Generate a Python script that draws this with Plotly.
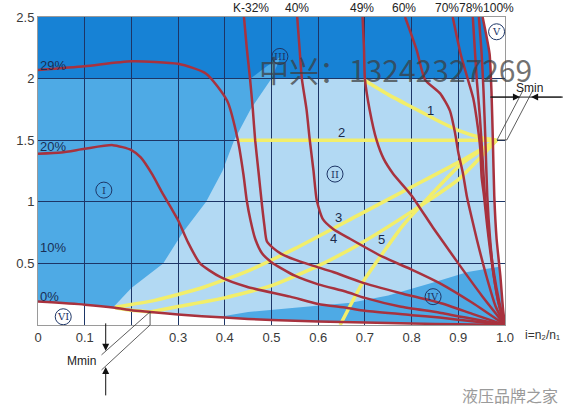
import plotly.graph_objects as go

# ---------------- ticks ----------------
x_tick_vals = [0, 0.1, 0.2, 0.3, 0.4, 0.5, 0.6, 0.7, 0.8, 0.9, 1.0]
x_tick_text = ["0", "0.1", "", "0.3", "0.4", "0.5", "0.6", "0.7", "0.8", "0.9", "1.0"]
y_tick_vals = [0, 0.5, 1, 1.5, 2, 2.5]
y_tick_text = ["", "0.5", "1", "1.5", "2", "2.5"]

# ---------------- characteristic curves ----------------
k0_x = [0, 0.1, 0.165, 0.2, 0.24, 0.3, 0.4, 0.5, 0.6, 0.7, 0.8, 0.9, 1.0]
k0_y = [0.19, 0.165, 0.14, 0.12, 0.106, 0.085, 0.06, 0.04, 0.028, 0.02, 0.012, 0.006, 0]

k20_x = [0, 0.05, 0.1, 0.16, 0.2, 0.22, 0.245, 0.265, 0.285, 0.3, 0.32, 0.347, 0.39, 0.447, 0.54, 0.6, 0.66, 0.7, 0.8, 0.86, 0.93, 1.0]
k20_y = [1.39, 1.40, 1.43, 1.46, 1.42, 1.36, 1.22, 1.08, 0.95, 0.85, 0.68, 0.50, 0.39, 0.31, 0.23, 0.17, 0.14, 0.115, 0.08, 0.06, 0.03, 0]

k29_x = [0, 0.1, 0.2, 0.3, 0.36, 0.405, 0.428, 0.44, 0.447, 0.455, 0.465, 0.48, 0.5, 0.55, 0.6, 0.66, 0.7, 0.775, 0.86, 0.93, 1.0]
k29_y = [2.07, 2.10, 2.14, 2.12, 2.04, 1.82, 1.50, 1.22, 1.01, 0.85, 0.70, 0.58, 0.51, 0.40, 0.33, 0.27, 0.22, 0.15, 0.10, 0.05, 0]

k32_x = [0.441, 0.447, 0.454, 0.46, 0.465, 0.472, 0.48, 0.485, 0.49, 0.505, 0.52, 0.55, 0.59, 0.632, 0.69, 0.775, 0.86, 0.93, 1.0]
k32_y = [2.5, 2.25, 2.0, 1.75, 1.5, 1.25, 0.96, 0.8, 0.68, 0.62, 0.58, 0.53, 0.48, 0.43, 0.35, 0.26, 0.18, 0.09, 0]

k40_x = [0.555, 0.56, 0.565, 0.575, 0.582, 0.59, 0.597, 0.61, 0.632, 0.668, 0.74, 0.80, 0.86, 0.93, 1.0]
k40_y = [2.5, 2.25, 2.0, 1.75, 1.5, 1.25, 1.01, 0.86, 0.78, 0.70, 0.55, 0.45, 0.34, 0.18, 0]

k49_x = [0.695, 0.698, 0.70, 0.71, 0.725, 0.74, 0.76, 0.80, 0.846, 0.90, 0.95, 1.0]
k49_y = [2.5, 2.25, 2.0, 1.75, 1.5, 1.35, 1.23, 1.05, 0.79, 0.50, 0.24, 0]

k60_x = [0.786, 0.811, 0.829, 0.861, 0.882, 0.893, 0.90, 0.91, 0.918, 0.93, 0.94, 0.96, 0.98, 1.0]
k60_y = [2.5, 2.23, 1.99, 1.88, 1.74, 1.56, 1.4, 1.23, 1.05, 0.85, 0.69, 0.40, 0.15, 0]

k70_x = [0.888, 0.905, 0.92, 0.932, 0.942, 0.947, 0.95, 0.955, 0.962, 0.972, 0.985, 1.0]
k70_y = [2.5, 2.2, 2.0, 1.84, 1.6, 1.43, 1.2, 1.05, 0.8, 0.5, 0.2, 0]

k78_x = [0.931, 0.936, 0.94, 0.946, 0.952, 0.957, 0.965, 0.975, 0.988, 1.0]
k78_y = [2.5, 2.2, 1.97, 1.7, 1.35, 1.05, 0.75, 0.45, 0.18, 0]

k88_x = [0.944, 0.95, 0.954, 0.958, 0.962, 0.968, 0.976, 0.99, 1.0]
k88_y = [2.5, 2.2, 1.9, 1.5, 1.05, 0.7, 0.4, 0.12, 0]

k100_x = [0.952, 0.96, 0.967, 0.971, 0.974, 0.977, 0.982, 0.99, 0.996, 1.0]
k100_y = [2.5, 2.35, 2.2, 1.9, 1.5, 1.05, 0.7, 0.4, 0.12, 0]

# ---------------- operating lines (yellow) ----------------
op1_x = [0.697, 0.75, 0.80, 0.85, 0.90, 0.95, 0.982]
op1_y = [1.99, 1.87, 1.77, 1.67, 1.58, 1.52, 1.50]
op2_x = [0.428, 0.982]
op2_y = [1.5, 1.5]
op3_x = [0.165, 0.25, 0.35, 0.45, 0.55, 0.69, 0.80, 0.90, 0.982]
op3_y = [0.145, 0.20, 0.30, 0.44, 0.62, 0.90, 1.12, 1.32, 1.5]
op4_x = [0.24, 0.30, 0.40, 0.50, 0.60, 0.69, 0.80, 0.90, 0.982]
op4_y = [0.106, 0.15, 0.22, 0.32, 0.48, 0.66, 0.92, 1.18, 1.5]
op5_x = [0.647, 0.696, 0.736, 0.782, 0.84, 0.904, 0.982]
op5_y = [0.0, 0.35, 0.57, 0.81, 1.05, 1.30, 1.5]
opb_x = [0.165, 0.2, 0.24]
opb_y = [0.14, 0.12, 0.106]

# ---------------- region boundaries ----------------
b1_x = [0.15, 0.2, 0.268, 0.31, 0.36, 0.395, 0.42, 0.455, 0.50]
b1_y = [0.10, 0.30, 0.5, 0.75, 1.0, 1.25, 1.5, 1.75, 2.0]
wedge_x = [0.455, 0.50, 0.52, 0.49]
wedge_y = [2.0, 2.0, 2.18, 2.1]
iv_x = [0.38, 0.45, 0.55, 0.67, 0.75, 0.85, 0.92, 1.0]
iv_y = [0.06, 0.105, 0.14, 0.18, 0.24, 0.35, 0.43, 0.48]

# ---------------- labels ----------------
top_labels = ["K-32%", "40%", "49%", "60%", "70%78%100%"]
top_label_x = [0.456, 0.555, 0.694, 0.784, 0.934]
left_labels = ["29%", "20%", "10%", "0%"]
left_label_y = [2.11, 1.45, 0.63, 0.23]
num_labels = ["1", "2", "3", "4", "5"]
num_x = [0.84, 0.649, 0.643, 0.632, 0.736]
num_y = [1.74, 1.56, 0.87, 0.70, 0.69]
roman_labels = ["I", "II", "III", "IV", "V", "VI"]
roman_x = [0.141, 0.636, 0.518, 0.846, 0.982, 0.054]
roman_y = [1.095, 1.225, 2.18, 0.23, 2.38, 0.067]

C_DARK = "#1782d5"
C_MED = "#4eaae5"
C_LIGHT = "#b2d9f3"
C_GRID = "#1d3566"
C_RED = "#a8323e"
C_YEL = "#f2ee6a"
FONT = "Liberation Sans, Arial, sans-serif"


def path(xs, ys):
    return "M " + " L ".join(f"{x},{y}" for x, y in zip(xs, ys)) + " Z"


fig = go.Figure()

# yellow operating lines
for xs, ys in [(op1_x, op1_y), (op2_x, op2_y), (op3_x, op3_y), (op4_x, op4_y), (op5_x, op5_y), (opb_x, opb_y)]:
    fig.add_trace(go.Scatter(x=xs, y=ys, mode="lines", line=dict(color=C_YEL, width=3.5, shape="spline", smoothing=0.5),
                             hoverinfo="skip", showlegend=False))

# red curves
for xs, ys in [(k0_x, k0_y), (k20_x, k20_y), (k29_x, k29_y), (k32_x, k32_y), (k40_x, k40_y), (k49_x, k49_y),
               (k60_x, k60_y), (k70_x, k70_y), (k78_x, k78_y), (k88_x, k88_y), (k100_x, k100_y)]:
    fig.add_trace(go.Scatter(x=xs, y=ys, mode="lines", line=dict(color=C_RED, width=2.5, shape="spline", smoothing=0.6),
                             hoverinfo="skip", showlegend=False))

shapes = []
# regions
shapes.append(dict(type="rect", xref="x", yref="y", x0=0, x1=1, y0=2, y1=2.5, fillcolor=C_DARK, line_width=0, layer="below"))
shapes.append(dict(type="path", xref="x", yref="y", path=path(wedge_x, wedge_y), fillcolor=C_MED, line_width=0, layer="below"))
shapes.append(dict(type="path", xref="x", yref="y",
                   path=path(b1_x + [1.0, 1.0, b1_x[0]], b1_y + [2.0, 0.0, 0.0]),
                   fillcolor=C_LIGHT, line_width=0, layer="below"))
shapes.append(dict(type="path", xref="x", yref="y",
                   path=path(iv_x + [1.0, iv_x[0]], iv_y + [0.0, 0.0]),
                   fillcolor=C_MED, line_width=0, layer="below"))
shapes.append(dict(type="path", xref="x", yref="y",
                   path=path(k0_x + [0.0], k0_y + [0.0]), fillcolor="white", line_width=0, layer="below"))
shapes.append(dict(type="path", xref="x", yref="y",
                   path=path(k100_x + [1.0], k100_y + [2.5]), fillcolor="white", line_width=0, layer="below"))

# roman numeral circles
for rx, ry in zip(roman_x, roman_y):
    shapes.append(dict(type="circle", xref="x", yref="y", xsizemode="pixel", ysizemode="pixel",
                       xanchor=rx, yanchor=ry, x0=-8, x1=8, y0=-8, y1=8,
                       line=dict(color=C_GRID, width=1), layer="above"))

# Smin construction (paper coords)
LK = dict(color="#222", width=1)
LT = dict(color="#333", width=0.8)
shapes += [
    dict(type="line", xref="paper", yref="paper", x0=0.968, x1=1.124, y0=0.740, y1=0.740, line=LK),
    dict(type="line", xref="paper", yref="paper", x0=0.983, x1=1.039, y0=0.601, y1=0.763, line=LT),
    dict(type="line", xref="paper", yref="paper", x0=1.004, x1=1.060, y0=0.601, y1=0.763, line=LT),
    dict(type="line", xref="paper", yref="paper", x0=0.983, x1=1.004, y0=0.601, y1=0.601, line=LT),
    # Mmin construction
    dict(type="line", xref="paper", yref="paper", x0=0.240, x1=0.136, y0=0.043, y1=-0.097, line=LT),
    dict(type="line", xref="paper", yref="paper", x0=0.240, x1=0.136, y0=0.0, y1=-0.146, line=LT),
    dict(type="line", xref="paper", yref="paper", x0=0.240, x1=0.240, y0=0.043, y1=0.0, line=LT),
]

ann = []
for t, x in zip(top_labels, top_label_x):
    ann.append(dict(text=t, x=x, y=1, xref="x", yref="paper", xanchor="center", yanchor="bottom", showarrow=False,
                    font=dict(size=12, color="#222", family=FONT)))
for t, y in zip(left_labels, left_label_y):
    ann.append(dict(text=t, x=0.0, y=y, xref="x", yref="y", xanchor="left", yanchor="middle", showarrow=False,
                    font=dict(size=13, color="#1a2f55", family=FONT)))
for t, x, y in zip(num_labels, num_x, num_y):
    ann.append(dict(text=t, x=x, y=y, xref="x", yref="y", showarrow=False,
                    font=dict(size=13, color="#1a2a4a", family=FONT)))
for t, x, y in zip(roman_labels, roman_x, roman_y):
    ann.append(dict(text=t, x=x, y=y, xref="x", yref="y", showarrow=False,
                    font=dict(size=10, color=C_GRID, family="DejaVu Serif, serif")))

ann += [
    dict(text="i=n₂/n₁", x=1.08, y=-0.033, xref="paper", yref="paper", xanchor="center", yanchor="middle",
         showarrow=False, font=dict(size=12, color="#333", family=FONT)),
    dict(text="Smin", x=1.053, y=0.768, xref="paper", yref="paper", xanchor="center", yanchor="middle",
         showarrow=False, font=dict(size=12, color="#222", family=FONT)),
    dict(text="Mmin", x=0.094, y=-0.117, xref="paper", yref="paper", xanchor="center", yanchor="middle",
         showarrow=False, font=dict(size=12, color="#222", family=FONT)),
    # arrows
    dict(text="", x=1.032, y=0.740, xref="paper", yref="paper", showarrow=True, ax=-30, ay=0,
         arrowhead=2, arrowsize=1.4, arrowwidth=1, arrowcolor="#111"),
    dict(text="", x=1.056, y=0.740, xref="paper", yref="paper", showarrow=True, ax=32, ay=0,
         arrowhead=2, arrowsize=1.4, arrowwidth=1, arrowcolor="#111"),
    dict(text="", x=0.145, y=-0.084, xref="paper", yref="paper", showarrow=True, ax=0, ay=-29,
         arrowhead=2, arrowsize=1.4, arrowwidth=1, arrowcolor="#111"),
    dict(text="", x=0.145, y=-0.136, xref="paper", yref="paper", showarrow=True, ax=0, ay=30,
         arrowhead=2, arrowsize=1.4, arrowwidth=1, arrowcolor="#111"),
    # watermarks
    dict(text="中兴：13242327269", x=0.47, y=0.83, xref="paper", yref="paper", xanchor="left", yanchor="middle",
         showarrow=False,
         font=dict(size=30, color="rgba(60,60,60,0.72)", family="Noto Sans CJK SC, sans-serif")),
    dict(text="液压品牌之家", x=0.904, y=-0.227, xref="paper", yref="paper", xanchor="left", yanchor="middle",
         showarrow=False, font=dict(size=16, color="#9a9a9a", family="Noto Sans CJK SC, sans-serif")),
]

fig.update_layout(
    width=569, height=408,
    margin=dict(l=38, r=64, t=17, b=83, autoexpand=False),
    paper_bgcolor="white", plot_bgcolor=C_MED,
    shapes=shapes, annotations=ann,
    showlegend=False,
    xaxis=dict(range=[0, 1], tickvals=x_tick_vals, ticktext=x_tick_text, showgrid=True, gridcolor=C_GRID,
               gridwidth=1, zeroline=False, showline=True, linecolor="#9a9a9a", mirror=True, ticks="",
               automargin=False, tickfont=dict(size=13, color="#3a3a3a", family=FONT), fixedrange=True),
    yaxis=dict(range=[0, 2.5], tickvals=y_tick_vals, ticktext=y_tick_text, showgrid=True, gridcolor=C_GRID,
               gridwidth=1, zeroline=False, showline=True, linecolor="#9a9a9a", mirror=True, ticks="",
               automargin=False, tickfont=dict(size=13, color="#3a3a3a", family=FONT), fixedrange=True),
)

# remove the default 8 px page margin so the figure sits at the window's top-left corner
fig.write_html("out.html", config={"displayModeBar": False},
               post_script="document.body.style.margin='0';")
